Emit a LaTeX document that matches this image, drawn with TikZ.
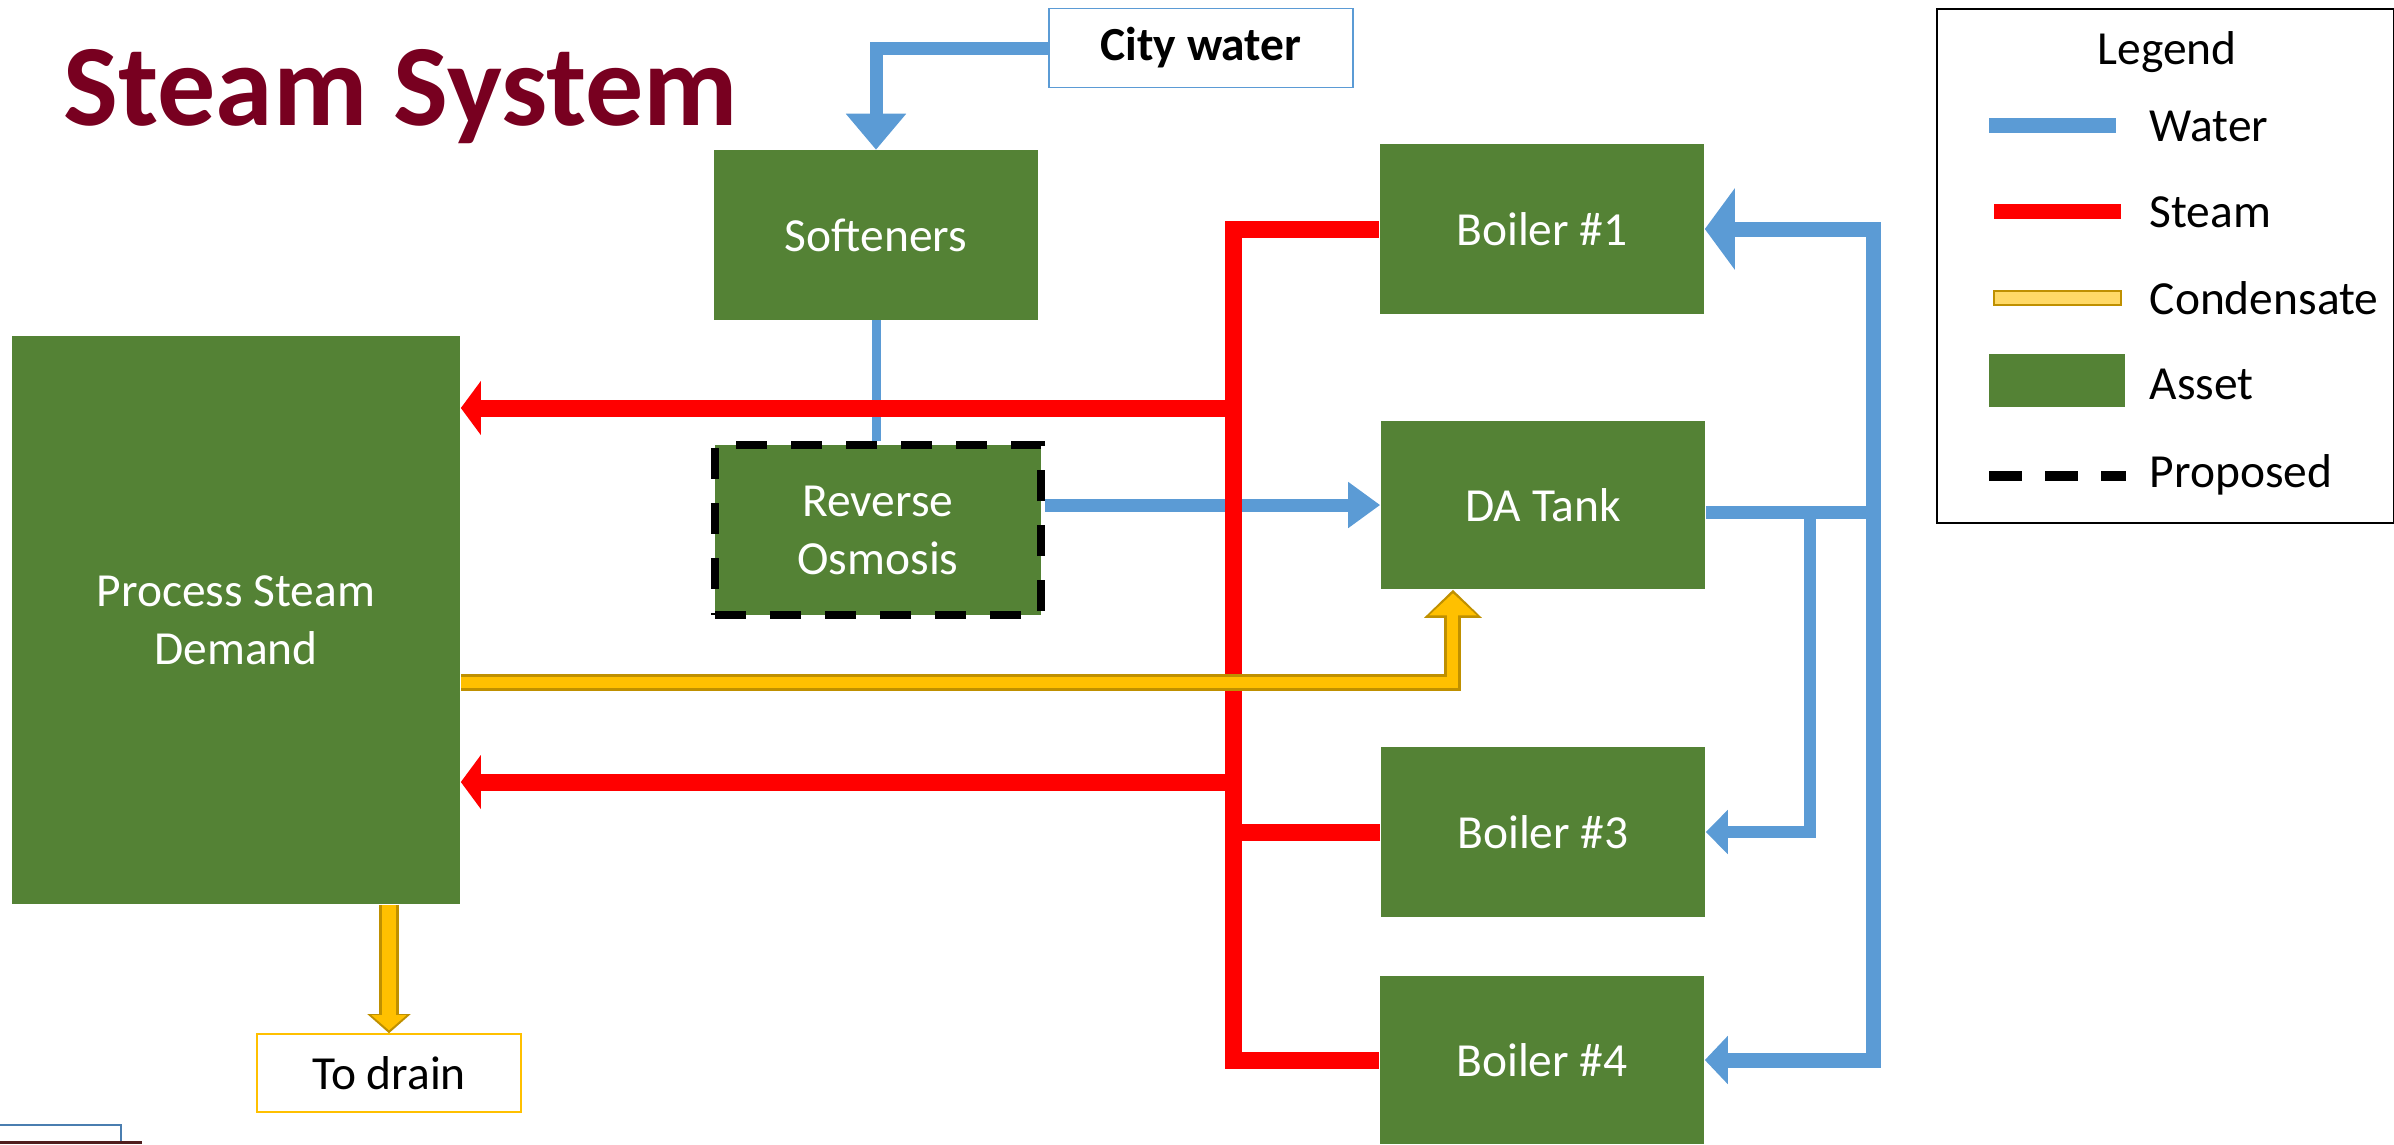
\documentclass[tikz,border=0pt]{standalone}
\usepackage{fontspec}
\setmainfont{Carlito}
\usetikzlibrary{arrows.meta}

\definecolor{assetgreen}{RGB}{84,130,53}
\definecolor{waterblue}{RGB}{91,155,213}
\definecolor{steamred}{RGB}{255,0,0}
\definecolor{condyellow}{RGB}{255,192,0}
\definecolor{condgold}{RGB}{191,144,0}
\definecolor{condlight}{RGB}{255,217,102}
\definecolor{titlered}{RGB}{120,0,32}
\definecolor{edgeblue}{RGB}{74,126,176}
\definecolor{edgebrown}{RGB}{80,30,30}

\tikzset{
  every node/.style={font=\fontsize{13.5}{16.5}\selectfont},
  asset/.style={fill=assetgreen, text=white, inner sep=0pt, align=center},
  proposed/.style={draw=black, line width=0.08cm, dash pattern=on 0.31cm off 0.24cm},
  water/.style={draw=waterblue, line width=0.13cm},
  steam/.style={draw=steamred, line width=0.17cm},
  condout/.style={draw=condgold, line width=0.17cm},
  condin/.style={draw=condyellow, line width=0.11cm},
  legtext/.style={anchor=base west, inner sep=0pt},
}

\begin{document}
\begin{tikzpicture}[x=0.01cm, y=-0.01cm]
  \useasboundingbox (0,0) rectangle (2394,1144);

  % title and inputs
  \node[anchor=base west, inner sep=0pt, text=titlered,
        font=\fontsize{33}{40}\selectfont\bfseries] (title) at (63,125) {Steam System};
  \node[draw=waterblue, line width=0.015cm, minimum width=3.04cm, minimum height=0.79cm,
        inner sep=0pt, font=\fontsize{13.5}{16.5}\selectfont\bfseries] (cw) at (1201,48) {City water};

  % assets
  \node[asset, minimum width=3.23cm, minimum height=1.69cm] (soft) at (876,235) {Softeners};
  \node[asset, proposed, fill=assetgreen, minimum width=3.26cm, minimum height=1.70cm] (ro) at (878,530) {Reverse\\Osmosis};
  \node[asset, minimum width=4.48cm, minimum height=5.68cm] (psd) at (236,620) {Process Steam\\Demand};
  \node[asset, minimum width=3.24cm, minimum height=1.69cm] (b1) at (1542,229) {Boiler \#1};
  \node[asset, minimum width=3.24cm, minimum height=1.68cm] (da) at (1543,505) {DA Tank};
  \node[asset, minimum width=3.24cm, minimum height=1.69cm] (b3) at (1543,832) {Boiler \#3};
  \node[asset, minimum width=3.24cm, minimum height=1.68cm] (b4) at (1542,1060) {Boiler \#4};
  \node[draw=condyellow, line width=0.015cm, minimum width=2.64cm, minimum height=0.78cm,
        inner sep=0pt] (drain) at (389,1073) {To drain};

  \coordinate (bus) at (1233,0);
  \coordinate (s1) at (1233,408);
  \coordinate (s2) at (1233,782);
  \coordinate (rA) at (1873,0);
  \coordinate (rB) at (1810,0);
  \coordinate (dw) at ([yshift=-0.07cm]da.east);

  % water
  \draw[water, -{Triangle[length=0.36cm, width=0.58cm]}] (cw.west) -| (soft.north);
  \draw[water, line width=0.09cm] (soft.south) -- (soft.south |- ro.north);
  \draw[water, -{Triangle[length=0.32cm, width=0.44cm]}] (ro.east |- da.west) -- (da.west);

  % steam
  \draw[steam] (b1.west) -| (bus |- b4.west) -- (b4.west);
  \draw[steam] (b3.west) -- (bus |- b3.west);
  \draw[steam, -{Triangle[length=0.20cm, width=0.53cm]}] (s1) -- (psd.east |- s1);
  \draw[steam, -{Triangle[length=0.20cm, width=0.53cm]}] (s2) -- (psd.east |- s2);

  % condensate
  \draw[condout, -{Triangle[length=0.28cm, width=0.56cm]}] ([yshift=-0.62cm]psd.east) -| ([xshift=-0.90cm]da.south);
  \draw[condin, -{Triangle[length=0.22cm, width=0.46cm]}, shorten >=0.035cm] ([yshift=-0.62cm]psd.east) -| ([xshift=-0.90cm]da.south);
  \draw[condout, line width=0.20cm, -{Triangle[length=0.19cm, width=0.42cm]}] (psd.south -| drain.north) -- (drain.north);
  \draw[condin, line width=0.14cm, -{Triangle[length=0.15cm, width=0.34cm]}, shorten >=0.03cm] (psd.south -| drain.north) -- (drain.north);

  % feed water to boilers
  \draw[water] (dw) -- (rA |- dw);
  \draw[water, line width=0.15cm, -{Triangle[length=0.30cm, width=0.80cm]}] (rA |- b4.east) -- (rA |- b1.east) -- (b1.east);
  \draw[water, line width=0.15cm, -{Triangle[length=0.23cm, width=0.47cm]}] (rA |- dw) |- (b4.east);
  \draw[water, line width=0.12cm, -{Triangle[length=0.22cm, width=0.43cm]}] (rB |- dw) |- (b3.east);

  % legend
  \node[draw, line width=0.02cm, minimum width=4.57cm, minimum height=5.14cm,
        inner sep=0pt, anchor=north west] (legend) at (1936,8) {};
  \node[anchor=base, inner sep=0pt] (legtitle) at (2167,64) {Legend};
  \draw[water, line width=0.15cm] (1989,125) -- (2116,125);
  \node[legtext] (lwater) at (2149,141) {Water};
  \draw[steam, line width=0.15cm] (1994,211) -- (2121,211);
  \node[legtext] (lsteam) at (2149,227) {Steam};
  \draw[draw=condgold, fill=condlight, line width=0.025cm] (1994,291) rectangle (2121,305);
  \node[legtext] (lcond) at (2149,314) {Condensate};
  \fill[assetgreen] (1989,354) rectangle (2125,407);
  \node[legtext] (lasset) at (2149,399) {Asset};
  \draw[line width=0.1cm, dash pattern=on 0.33cm off 0.23cm] (1989,476) -- (2126,476);
  \node[legtext] (lprop) at (2149,487) {Proposed};

  % cut-off shapes at the lower left edge
  \draw[edgeblue, line width=0.025cm] (0,1125) -- (121,1125) -- (121,1144);
  \fill[edgebrown] (0,1141) rectangle (142,1144);
\end{tikzpicture}
\end{document}
